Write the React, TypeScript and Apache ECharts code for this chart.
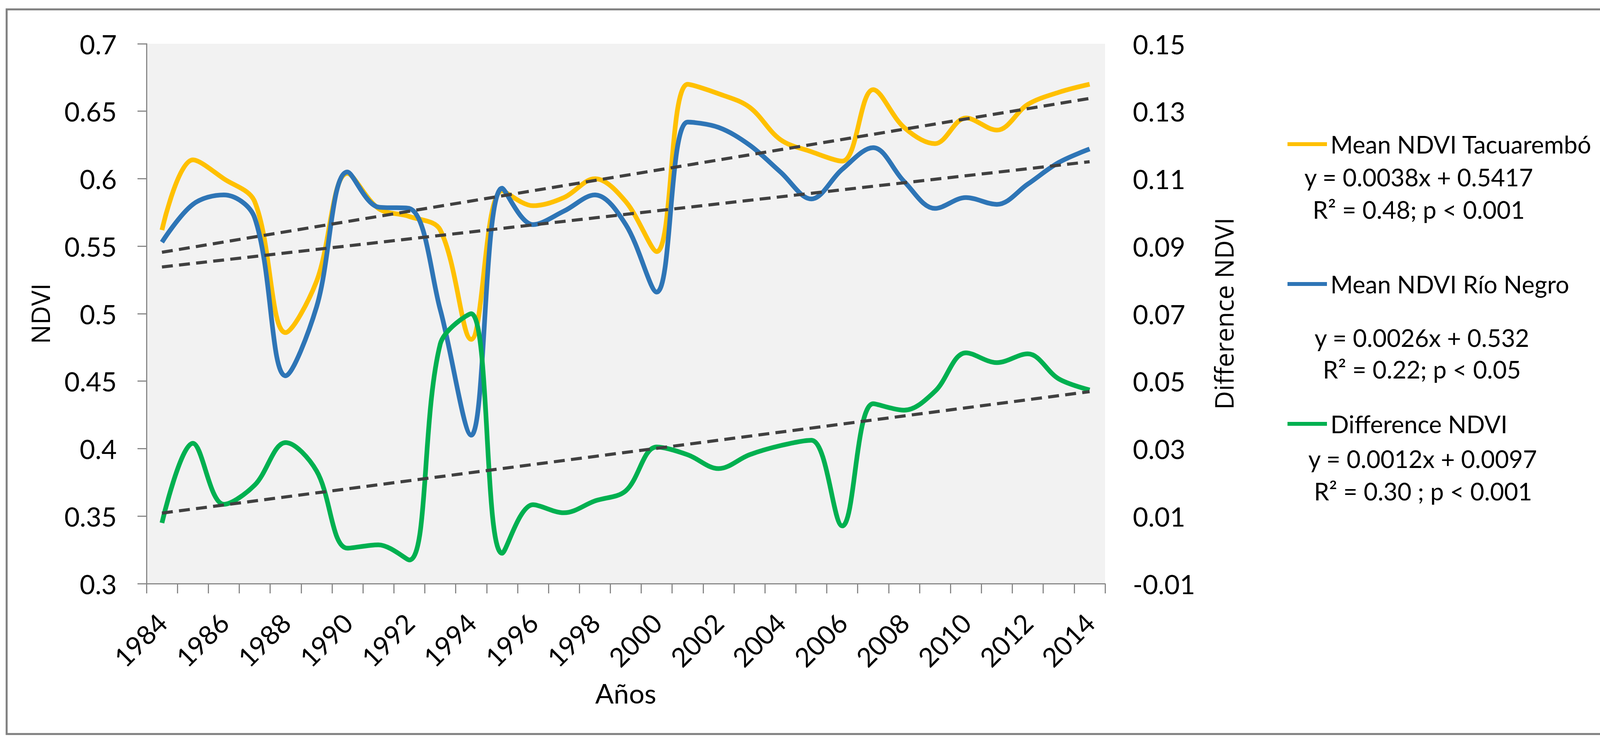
import React, { useEffect, useRef } from "react";
import * as echarts from "echarts";

const years = [
  "1984", "1985", "1986", "1987", "1988", "1989", "1990", "1991", "1992", "1993",
  "1994", "1995", "1996", "1997", "1998", "1999", "2000", "2001", "2002", "2003",
  "2004", "2005", "2006", "2007", "2008", "2009", "2010", "2011", "2012", "2013", "2014",
];

const tacuarembo = [
  0.562, 0.614, 0.600, 0.583, 0.486, 0.524, 0.604, 0.578, 0.572, 0.562,
  0.481, 0.591, 0.580, 0.586, 0.600, 0.583, 0.546, 0.670, 0.663, 0.653,
  0.629, 0.620, 0.613, 0.666, 0.638, 0.626, 0.645, 0.636, 0.655, 0.664, 0.670,
];

const rioNegro = [
  0.553, 0.581, 0.588, 0.571, 0.454, 0.505, 0.605, 0.579, 0.578, 0.503,
  0.410, 0.593, 0.566, 0.576, 0.588, 0.566, 0.516, 0.642, 0.638, 0.625,
  0.605, 0.585, 0.607, 0.623, 0.598, 0.578, 0.586, 0.581, 0.596, 0.612, 0.622,
];

const difference = [
  0.008, 0.0316, 0.0135, 0.0192, 0.0318, 0.0234, 0.0005, 0.0015, -0.003, 0.061,
  0.070, -0.001, 0.0134, 0.011, 0.0145, 0.0175, 0.0305, 0.0282, 0.0241, 0.0282,
  0.0309, 0.0325, 0.0071, 0.0433, 0.0414, 0.047, 0.0584, 0.0555, 0.0581, 0.0507, 0.0474,
];

const seriesNames = ["Mean NDVI Tacuarembó", "Mean NDVI Río Negro", "Difference NDVI"];
const seriesColors = ["#FFC000", "#2E75B6", "#00B050"];

// trend line coefficients (y = slope * x + intercept, x = 1..31)
const trendSlopes = [0.0038, 0.0026, 0.0012];
const trendIntercepts = [0.5417, 0.532, 0.0097];

const equationLines = [
  "y = 0.0038x + 0.5417",
  "R² = 0.48; p < 0.001",
  "y = 0.0026x + 0.532",
  "R² = 0.22; p < 0.05",
  "y = 0.0012x + 0.0097",
  "R² = 0.30 ; p < 0.001",
];

const rightTicks = [-0.01, 0.01, 0.03, 0.05, 0.07, 0.09, 0.11, 0.13, 0.15];

const LABEL_FONT = "Lato";
const TITLE_FONT = "Open Sans";

function trendData(k: number) {
  const n = years.length;
  return years.map((_, i) =>
    i === 0 || i === n - 1 ? trendSlopes[k] * (i + 1) + trendIntercepts[k] : null
  );
}

export default function App() {
  const ref = useRef<HTMLDivElement>(null);

  useEffect(() => {
    const chart = echarts.init(ref.current as HTMLDivElement, null, { renderer: "svg" });

    const legendCenters = [369, 727, 1085];
    const eqPos = [
      [3632, 453],
      [3632, 536],
      [3640, 864],
      [3640, 945],
      [3642, 1174],
      [3643, 1257],
    ];

    const option: any = {
      animation: false,
      backgroundColor: "#ffffff",
      grid: {
        left: 375,
        right: 4244 - 2829,
        top: 112,
        bottom: 1902 - 1494,
        show: true,
        backgroundColor: "#F2F2F2",
        borderWidth: 0,
      },
      xAxis: {
        type: "category",
        data: years,
        boundaryGap: true,
        name: "Años",
        nameLocation: "middle",
        nameGap: 245,
        nameTextStyle: { fontFamily: LABEL_FONT, fontSize: 70, color: "#000" },
        axisLine: { show: true, onZero: false, lineStyle: { color: "#898989", width: 3 } },
        axisTick: { show: true, interval: 0, length: 25, lineStyle: { color: "#898989", width: 3 } },
        axisLabel: {
          interval: 1,
          rotate: 45,
          margin: 88,
          fontFamily: LABEL_FONT,
          fontSize: 68,
          color: "#000",
        },
        splitLine: { show: false },
      },
      yAxis: [
        {
          type: "value",
          min: 0.3,
          max: 0.7,
          interval: 0.05,
          position: "left",
          name: "NDVI",
          nameLocation: "middle",
          nameRotate: 90,
          nameGap: 240,
          nameTextStyle: { fontFamily: TITLE_FONT, fontSize: 66, color: "#000" },
          axisLine: { show: true, lineStyle: { color: "#898989", width: 3 } },
          axisTick: { show: true, length: 23, lineStyle: { color: "#898989", width: 3 } },
          axisLabel: {
            margin: 76,
            fontFamily: LABEL_FONT,
            fontSize: 68,
            color: "#000",
            formatter: (v: number) => String(+v.toFixed(2)),
          },
          splitLine: { show: false },
        },
        {
          type: "value",
          min: -0.01,
          max: 0.15,
          position: "right",
          name: "Difference NDVI",
          nameLocation: "middle",
          nameRotate: 90,
          nameGap: 270,
          nameTextStyle: { fontFamily: TITLE_FONT, fontSize: 66, color: "#000" },
          axisLine: { show: false, onZero: false },
          axisTick: { show: false, customValues: rightTicks },
          axisLabel: {
            customValues: rightTicks,
            margin: 71,
            fontFamily: LABEL_FONT,
            fontSize: 68,
            color: "#000",
            formatter: (v: number) => String(+(+v).toFixed(2)),
          },
          splitLine: { show: false },
        },
      ],
      legend: seriesNames.map((name, k) => ({
        data: [name],
        left: 3296,
        top: legendCenters[k] - 31,
        orient: "horizontal",
        padding: 0,
        selectedMode: false,
        icon: "rect",
        itemWidth: 101,
        itemHeight: 10,
        textStyle: { fontFamily: LABEL_FONT, fontSize: 62, lineHeight: 62, color: "#000", padding: [0, 0, 0, 4] },
      })),
      series: [
        {
          name: seriesNames[0],
          type: "line",
          yAxisIndex: 0,
          data: tacuarembo,
          smooth: 0.35,
          symbol: "none",
          color: seriesColors[0],
          lineStyle: { color: seriesColors[0], width: 12 },
          z: 2,
        },
        {
          name: seriesNames[1],
          type: "line",
          yAxisIndex: 0,
          data: rioNegro,
          smooth: 0.35,
          symbol: "none",
          color: seriesColors[1],
          lineStyle: { color: seriesColors[1], width: 12 },
          z: 3,
        },
        {
          name: seriesNames[2],
          type: "line",
          yAxisIndex: 1,
          data: difference,
          smooth: 0.35,
          symbol: "none",
          color: seriesColors[2],
          lineStyle: { color: seriesColors[2], width: 12 },
          z: 4,
        },
        ...[0, 1, 2].map((k) => ({
          name: "trend" + k,
          type: "line",
          yAxisIndex: k === 2 ? 1 : 0,
          data: trendData(k),
          connectNulls: true,
          symbol: "none",
          color: "#404040",
          lineStyle: { color: "#404040", width: 8, type: [28, 16], cap: "butt" },
          z: 5,
        })),
      ],
      graphic: [
        {
          type: "rect",
          shape: { x: 17, y: 24, width: 4207, height: 1855 },
          style: { fill: "none", stroke: "#7F7F7F", lineWidth: 5 },
          silent: true,
        },
        ...equationLines.map((t, i) => ({
          type: "text",
          x: eqPos[i][0],
          y: eqPos[i][1],
          style: {
            text: t,
            fill: "#000",
            font: "62px " + LABEL_FONT,
            align: "center",
            verticalAlign: "middle",
          },
          silent: true,
        })),
      ],
    };

    chart.setOption(option);
    return () => chart.dispose();
  }, []);

  return (
    <div
      ref={ref}
      style={{ position: "absolute", left: 0, top: 0, width: 4244, height: 1902, background: "#fff" }}
    />
  );
}
